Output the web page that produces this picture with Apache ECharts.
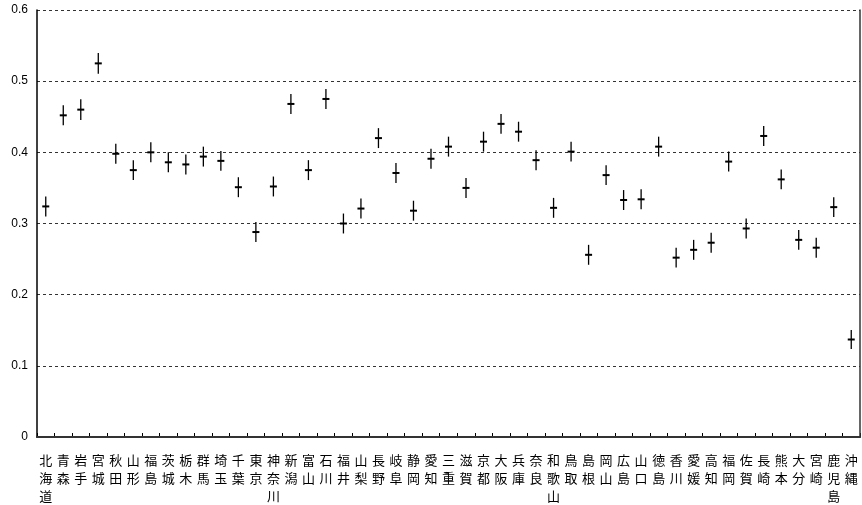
<!DOCTYPE html>
<html>
<head>
<meta charset="utf-8">
<script src="https://cdn.jsdelivr.net/npm/echarts@6/dist/echarts.min.js"></script>
<style>html,body{margin:0;padding:0;background:#fff;}#c{width:862px;height:505px;}</style>
</head>
<body>
<div id="c"></div>
<script>
var categories = ['北海道','青森','岩手','宮城','秋田','山形','福島','茨城','栃木','群馬','埼玉','千葉','東京','神奈川','新潟','富山','石川','福井','山梨','長野','岐阜','静岡','愛知','三重','滋賀','京都','大阪','兵庫','奈良','和歌山','鳥取','島根','岡山','広島','山口','徳島','香川','愛媛','高知','福岡','佐賀','長崎','熊本','大分','宮崎','鹿児島','沖縄'];
var values = [0.324,0.452,0.460,0.525,0.398,0.375,0.400,0.386,0.383,0.394,0.388,0.351,0.288,0.352,0.468,0.375,0.475,0.300,0.321,0.420,0.371,0.318,0.391,0.408,0.350,0.415,0.440,0.429,0.389,0.322,0.401,0.256,0.368,0.333,0.334,0.408,0.252,0.263,0.273,0.387,0.293,0.423,0.362,0.277,0.266,0.323,0.137];
var errors = [0.014,0.014,0.0145,0.0145,0.014,0.014,0.014,0.014,0.014,0.014,0.014,0.014,0.014,0.014,0.014,0.014,0.014,0.014,0.014,0.014,0.014,0.014,0.014,0.014,0.014,0.014,0.014,0.014,0.014,0.014,0.014,0.014,0.014,0.014,0.014,0.014,0.014,0.014,0.014,0.014,0.014,0.014,0.014,0.014,0.014,0.014,0.0135];
var yTicks = [0,0.1,0.2,0.3,0.4,0.5,0.6];

var data = values.map(function(v,i){ return [i, v, v - errors[i], v + errors[i]]; });

var chart = echarts.init(document.getElementById('c'), null, {renderer:'canvas'});
chart.setOption({
  animation: false,
  backgroundColor: '#fff',
  grid: {left: 37, right: 2, top: 10, bottom: 67, containLabel: false},
  xAxis: [{
    type: 'category',
    data: categories,
    boundaryGap: true,
    axisLine: {show: true, lineStyle: {color: '#000', width: 1.5}},
    axisTick: {show: true, inside: true, length: 4, interval: 0, lineStyle: {color: '#000'}},
    axisLabel: {
      interval: 0, margin: 14, color: '#000', fontSize: 13, lineHeight: 18,
      fontFamily: 'Noto Sans CJK JP',
      formatter: function(s){ return s.split('').join('\n'); }
    },
    splitLine: {show: false}
  },{
    type: 'category',
    data: categories,
    position: 'top',
    z: 5,
    axisLine: {show: true, lineStyle: {color: '#333', width: 2}},
    axisTick: {show: false},
    axisLabel: {show: false},
    splitLine: {show: false}
  }],
  yAxis: [{
    type: 'value',
    min: 0, max: 0.6, interval: 0.1,
    axisLine: {show: true, lineStyle: {color: '#000', width: 1.5}},
    axisTick: {show: false},
    axisLabel: {
      color: '#000', fontSize: 12, margin: 9, fontFamily: 'Liberation Sans',
      formatter: function(v){ var r = yTicks.reduce(function(a,b){ return Math.abs(b-v) < Math.abs(a-v) ? b : a; }); return r === 0 ? '0' : r.toFixed(1); }
    },
    splitLine: {show: true, lineStyle: {color: '#333', type: [3,3], width: 1}}
  },{
    type: 'value',
    min: 0, max: 0.6, interval: 0.1,
    position: 'right',
    z: 5,
    axisLine: {show: true, lineStyle: {color: '#333', width: 1.5}},
    axisTick: {show: false},
    axisLabel: {show: false},
    splitLine: {show: false}
  }],
  series: [{
    type: 'custom',
    xAxisIndex: 0, yAxisIndex: 0,
    z: 10,
    data: data,
    encode: {x: 0, y: 1},
    renderItem: function(params, api){
      var x = api.value(0);
      var c = api.coord([x, api.value(1)]);
      var lo = api.coord([x, api.value(2)]);
      var hi = api.coord([x, api.value(3)]);
      return {
        type: 'group',
        children: [
          {type: 'line', shape: {x1: c[0], y1: lo[1], x2: c[0], y2: hi[1]}, style: {stroke: '#000', lineWidth: 1.3}},
          {type: 'line', shape: {x1: c[0]-3.5, y1: c[1], x2: c[0]+3.5, y2: c[1]}, style: {stroke: '#000', lineWidth: 2}}
        ]
      };
    }
  }]
});
</script>
</body>
</html>
